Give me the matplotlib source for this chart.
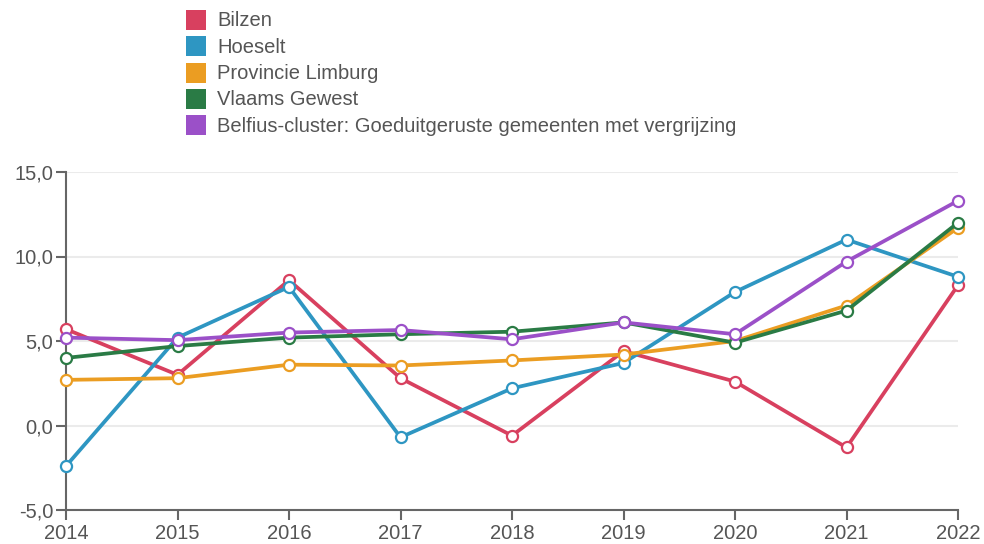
import matplotlib
matplotlib.use("Agg")
import matplotlib.pyplot as plt
from matplotlib.patches import Rectangle

plt.rcParams['font.family'] = ['Liberation Sans', 'DejaVu Sans']

years = [2014, 2015, 2016, 2017, 2018, 2019, 2020, 2021, 2022]
series_names = ["Bilzen", "Hoeselt", "Provincie Limburg", "Vlaams Gewest",
                "Belfius-cluster: Goeduitgeruste gemeenten met vergrijzing"]
bilzen = [5.7, 3.0, 8.6, 2.8, -0.6, 4.4, 2.6, -1.3, 8.3]
hoeselt = [-2.4, 5.2, 8.2, -0.7, 2.2, 3.7, 7.9, 11.0, 8.8]
limburg = [2.7, 2.8, 3.6, 3.55, 3.85, 4.2, 5.0, 7.1, 11.7]
vlaams = [4.0, 4.7, 5.2, 5.4, 5.55, 6.1, 4.9, 6.8, 12.0]
belfius = [5.2, 5.05, 5.5, 5.65, 5.1, 6.1, 5.4, 9.7, 13.3]
colors = ["#d8405f", "#2e96c2", "#eb9d22", "#2a7b45", "#9b50c8"]
yticks = [-5, 0, 5, 10, 15]
ytick_labels = ["-5,0", "0,0", "5,0", "10,0", "15,0"]

W, H = 984, 544
fig = plt.figure(figsize=(W / 100, H / 100), dpi=100)
ax = fig.add_axes([66 / W, (H - 510) / H, (958 - 66) / W, (510 - 172) / H])

for vals, col in zip([bilzen, hoeselt, limburg, vlaams, belfius], colors):
    ax.plot(years, vals, color=col, lw=2.7, marker='o', markersize=8,
            markerfacecolor='white', markeredgecolor=col, markeredgewidth=1.6,
            clip_on=False, zorder=3)

ax.set_xlim(2014, 2022)
ax.set_ylim(-5, 15)
ax.set_xticks(years)
ax.set_xticklabels([str(y) for y in years])
ax.set_yticks(yticks)
ax.set_yticklabels(ytick_labels)
ax.grid(axis='y', color='#ebebeb', lw=1.5, zorder=0)
for s in ['top', 'right']:
    ax.spines[s].set_visible(False)
for s in ['left', 'bottom']:
    ax.spines[s].set_color('#666666')
    ax.spines[s].set_linewidth(1.5)
ax.tick_params(axis='both', colors='#666666', labelcolor='#555555',
               labelsize=14.5, length=7, width=1.5)
ax.tick_params(axis='x', pad=3)
ax.tick_params(axis='y', pad=2)

# legend
for i, (name, col) in enumerate(zip(series_names, colors)):
    yc = 20 + 26.3 * i
    fig.add_artist(Rectangle((186 / W, (H - yc - 10) / H), 20 / W, 20 / H,
                             transform=fig.transFigure, facecolor=col,
                             edgecolor='none'))
    fig.text(217 / W, (H - yc - 1) / H, name, fontsize=14.5, color='#555555',
             va='center', ha='left')

fig.savefig("out.png", dpi=100)
